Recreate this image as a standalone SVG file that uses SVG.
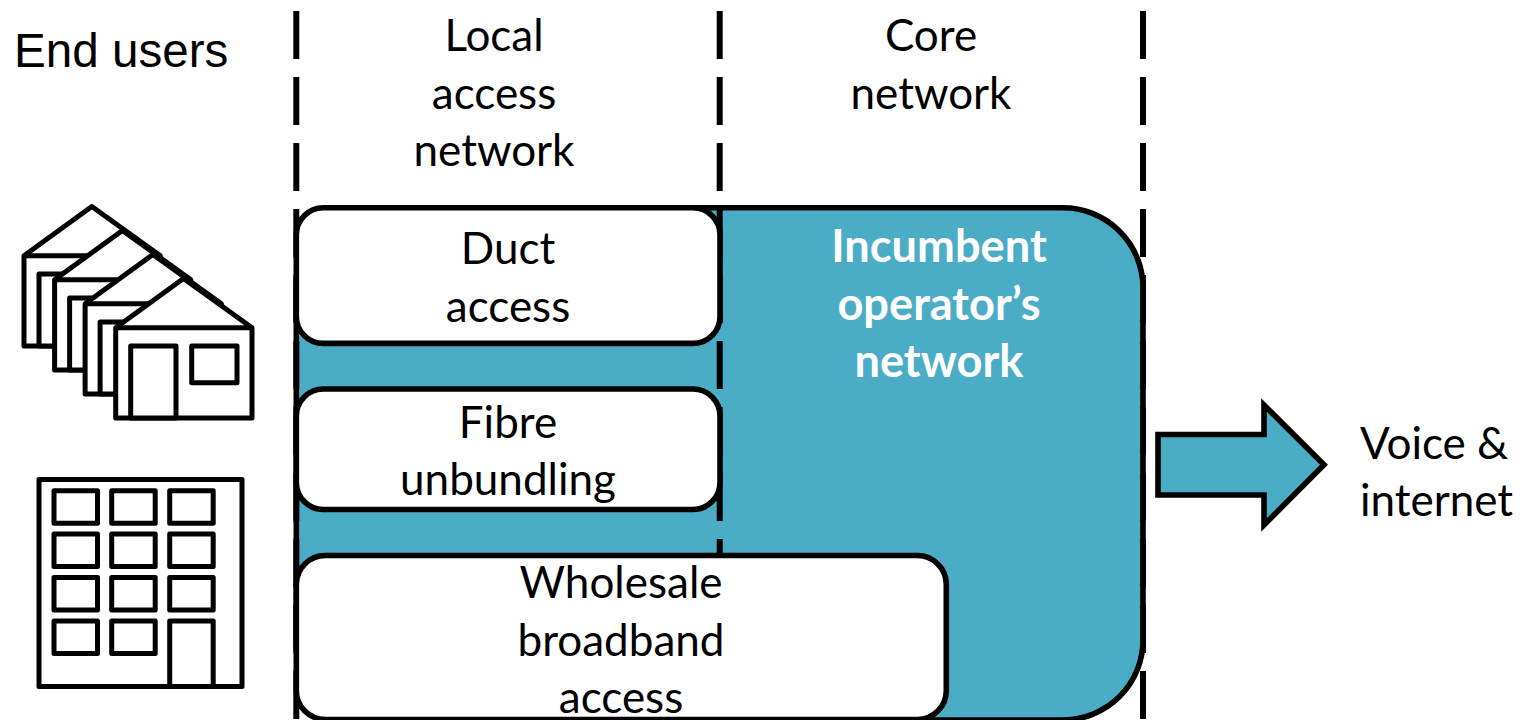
<svg xmlns="http://www.w3.org/2000/svg" width="1526" height="720" viewBox="0 0 1526 720">
<style>
text{font-family:"Lato","Carlito","Open Sans",sans-serif;font-size:44px;fill:#000;text-anchor:middle}
.start{text-anchor:start}
.arial{font-family:"Liberation Sans",Arial,sans-serif;font-size:47.6px;text-anchor:start}
.inv{fill:#fff;font-weight:700;font-size:45.200px}
.dash{fill:none;stroke:#000;stroke-width:6;stroke-dasharray:48 18}
.panel{fill:#4bacc6;stroke:#000;stroke-width:5.600;stroke-linejoin:miter}
.box{fill:#fff;stroke:#000;stroke-width:5.600}
.icon{fill:#fff;stroke:#000;stroke-width:5;stroke-linejoin:round}
</style>
<defs>
<g id="house">
<path class="icon" d="M115.700 327.700L183.500 278.500L252 327.700V418H115.700Z"/>
<path class="icon" d="M115.700 327.700H252"/>
<rect class="icon" x="130.700" y="346" width="45.300" height="72"/>
<rect class="icon" x="191.700" y="346" width="45.300" height="36.700"/>
</g>
</defs>
<g id="panel-incumbent">
<rect class="panel" x="296.300" y="207.800" width="846.700" height="512.200" rx="80"/>
</g>
<g id="connectors">
<path class="dash" d="M296.300 11V720"/>
<path class="dash" d="M719.700 11V720"/>
<path class="dash" d="M1143 11V720"/>
</g>
<g id="node-duct">
<rect class="box" x="296.300" y="207.800" width="423.700" height="135.600" rx="27"/>
<text x="508" y="263.500">Duct</text><text x="508" y="321.500">access</text>
</g>
<g id="node-fibre">
<rect class="box" x="296.300" y="389" width="423.700" height="120.500" rx="27"/>
<text x="508" y="437.500">Fibre</text><text x="508" y="494.500">unbundling</text>
</g>
<g id="node-wholesale">
<rect class="box" x="296.300" y="555.500" width="650" height="164" rx="29"/>
<text x="621" y="598">Wholesale</text><text x="621" y="656">broadband</text><text x="621" y="713">access</text>
</g>
<g id="node-incumbent-label">
<text class="inv" x="939" y="262">Incumbent</text><text class="inv" x="939" y="320">operator’s</text><text class="inv" x="939" y="377">network</text>
</g>
<g id="node-end-users">
<text class="arial" x="14" y="67">End users</text>
</g>
<g id="node-local-header">
<text x="494" y="51">Local</text><text x="494" y="109">access</text><text x="494" y="166">network</text>
</g>
<g id="node-core-header">
<text x="931" y="51">Core</text><text x="931" y="109">network</text>
</g>
<g id="node-houses">
<use href="#house" x="-91.700" y="-72"/>
<use href="#house" x="-61.100" y="-48"/>
<use href="#house" x="-30.600" y="-24"/>
<use href="#house"/>
</g>
<g id="node-building">
<rect class="icon" x="39" y="479.500" width="203" height="207"/>
<rect class="icon" x="54" y="490.700" width="43.500" height="32.600"/>
<rect class="icon" x="111.700" y="490.700" width="43.500" height="32.600"/>
<rect class="icon" x="169.700" y="490.700" width="43.500" height="32.600"/>
<rect class="icon" x="54" y="534" width="43.500" height="32.600"/>
<rect class="icon" x="111.700" y="534" width="43.500" height="32.600"/>
<rect class="icon" x="169.700" y="534" width="43.500" height="32.600"/>
<rect class="icon" x="54" y="577.500" width="43.500" height="32.600"/>
<rect class="icon" x="111.700" y="577.500" width="43.500" height="32.600"/>
<rect class="icon" x="169.700" y="577.500" width="43.500" height="32.600"/>
<rect class="icon" x="54" y="621" width="43.500" height="32.600"/>
<rect class="icon" x="111.700" y="621" width="43.500" height="32.600"/>
<rect class="icon" x="169.700" y="621" width="43.500" height="65.500"/>
</g>
<g id="node-arrow">
<path class="panel" d="M1158 434.500H1264V405L1324 464.700L1264 525V495H1158Z"/>
</g>
<g id="node-voice">
<text class="start" x="1360" y="459">Voice &amp;</text><text class="start" x="1360" y="516">internet</text>
</g>
</svg>
